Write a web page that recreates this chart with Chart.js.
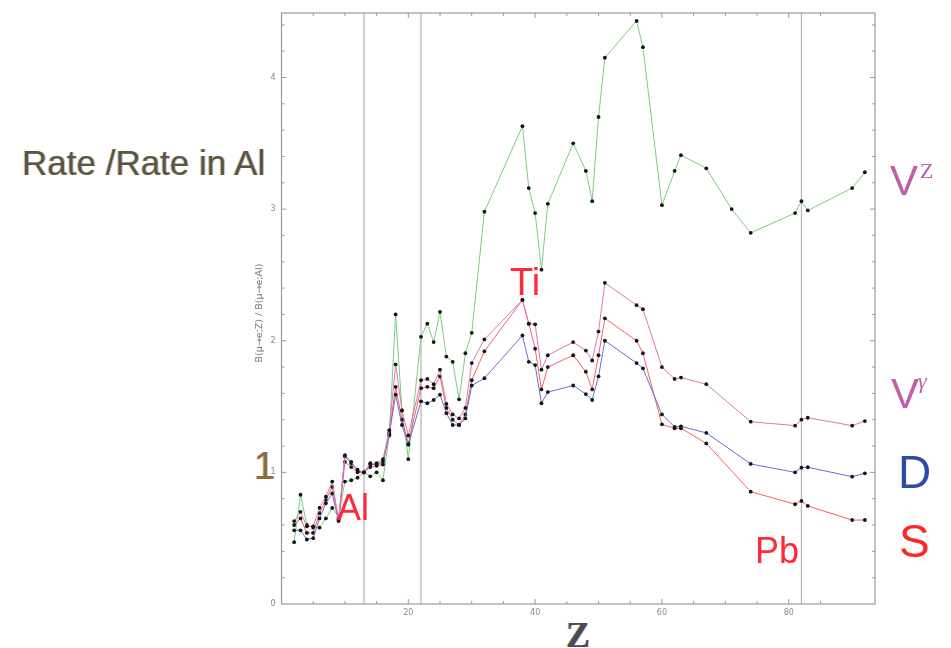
<!DOCTYPE html>
<html>
<head>
<meta charset="utf-8">
<script src="https://cdn.jsdelivr.net/npm/chart.js@4.4.1/dist/chart.umd.min.js"></script>
<style>
  html, body { margin: 0; padding: 0; background: #fff; }
  #wrap { position: relative; width: 951px; height: 648px; overflow: hidden;
          font-family: "Liberation Sans", Arial, sans-serif; }
  #wrap canvas { position: absolute; left: 0; top: 0; }
  .t { position: absolute; line-height: 1; white-space: nowrap; }
  .fringe { text-shadow: -1px 0 rgba(230,150,40,0.55), 1px 0 rgba(60,130,210,0.45); }
  .ytitle { position: absolute; left: 258px; top: 313px; font-size: 9.5px; color: #777;
            font-family: "DejaVu Sans", sans-serif; transform: translate(-50%, -50%) rotate(-90deg);
            white-space: nowrap; }
  sup { font-family: "Liberation Serif", serif; }
</style>
</head>
<body>
<div id="wrap">
  <canvas id="c" width="951" height="648"></canvas>
  <div class="ytitle">B(μ→e;Z) / B(μ→e;Al)</div>
  <div class="t fringe" style="left:22px;top:145px;font-size:35px;color:#5b5547;">Rate /Rate in Al</div>
  <div class="t fringe" style="left:254px;top:447px;font-size:38px;color:#8e6a3c;">1</div>
  <div class="t" style="left:510px;top:263px;font-size:38px;color:#ff2a38;">Ti</div>
  <div class="t" style="left:337px;top:490px;font-size:36px;color:#ff2a38;">Al</div>
  <div class="t" style="left:755px;top:533px;font-size:36px;color:#ff2a38;">Pb</div>
  <div class="t" style="left:890px;top:160px;font-size:42px;color:#c25ea8;">V</div>
  <div class="t" style="left:920px;top:160px;font-size:22px;color:#c25ea8;font-family:'Liberation Serif',serif;">Z</div>
  <div class="t" style="left:891px;top:373px;font-size:42px;color:#c25ea8;">V</div>
  <div class="t" style="left:918px;top:370px;font-size:22px;color:#c25ea8;font-family:'Liberation Serif',serif;font-style:italic;">γ</div>
  <div class="t" style="left:898px;top:449px;font-size:46px;color:#2c4ca2;">D</div>
  <div class="t" style="left:899px;top:518px;font-size:46px;color:#ff2626;">S</div>
  <div class="t fringe" style="left:566px;top:617px;font-size:36px;color:#4a4a58;font-weight:bold;font-family:'Liberation Serif',serif;">Z</div>
</div>
<script>
// Atomic numbers of the target nuclei
const zNuclei = [2, 3, 4, 5, 6, 7, 8, 9, 10, 11, 12, 13, 14, 15, 16, 17, 18, 19, 20,
                 22, 23, 24, 25, 26, 27, 28, 29, 30, 32, 38, 39, 40, 41, 42,
                 46, 48, 49, 50, 51, 56, 57, 60, 62, 63, 67, 71, 74, 81, 82, 83, 90, 92];

// Conversion rate relative to aluminium, one array per interaction type
const rateVZ = [0.47, 0.83, 0.60, 0.58, 0.58, 0.65, 0.73, 0.66, 0.93, 0.94, 0.96, 1.00, 0.97, 1.00, 0.94, 1.28, 2.20, 1.47, 1.10,
                2.03, 2.13, 1.99, 2.22, 1.88, 1.84, 1.555, 1.905, 2.06, 2.98, 3.63, 3.16, 2.97, 2.54, 3.04,
                3.50, 3.29, 3.06, 3.70, 4.15, 4.43, 4.23, 3.03, 3.29, 3.41, 3.31, 3.00, 2.82, 2.97, 3.06, 2.99, 3.16, 3.28];

const rateVGamma = [0.63, 0.70, 0.59, 0.59, 0.73, 0.815, 0.93, 0.64, 1.13, 1.08, 1.02, 1.00, 1.07, 1.07, 1.10, 1.32, 1.82, 1.47, 1.28,
                    1.70, 1.71, 1.67, 1.78, 1.52, 1.44, 1.41, 1.49, 1.83, 2.01, 2.31, 2.13, 2.125, 1.78, 1.89,
                    1.99, 1.925, 1.85, 2.07, 2.44, 2.27, 2.24, 1.80, 1.71, 1.72, 1.67, null, 1.385, 1.355, 1.40, 1.415, 1.355, 1.39];

const rateDipole = [0.56, 0.56, 0.49, 0.50, 0.65, 0.765, 0.84, 0.63, 1.12, 1.07, 1.01, 1.00, 1.06, 1.06, 1.08, 1.29, 1.59, 1.36, 1.21,
                    1.54, 1.525, 1.55, 1.59, 1.45, 1.36, 1.36, 1.41, 1.66, 1.715, 2.04, 1.84, 1.815, 1.525, 1.61,
                    1.66, 1.595, 1.55, 1.73, 2.00, 1.83, 1.79, 1.44, 1.345, 1.35, 1.30, null, 1.064, 1.00, 1.036, 1.039, 0.967, 0.993];

const rateScalar = [0.60, 0.65, 0.54, 0.54, 0.69, 0.79, 0.89, 0.64, 1.08, 1.04, 1.00, 1.00, 1.04, 1.05, 1.06, 1.30, 1.65, 1.40, 1.22,
                    1.64, 1.65, 1.64, 1.73, 1.49, 1.40, 1.36, 1.44, 1.70, 1.92, 2.31, 2.13, 1.94, 1.63, 1.80,
                    1.89, 1.765, 1.63, 1.89, 2.17, 2.00, 1.905, 1.365, 1.335, 1.335, 1.22, null, 0.853, 0.758, 0.783, 0.745, 0.638, 0.638];

// Reference nuclei marked with vertical lines (Al, Ti, Pb)
const markedZ = [13, 22, 82];

// Tick labels
const xTickLabels = [20, 40, 60, 80];
const yTickLabels = [0, 1, 2, 3, 4];

const toPoints = vals => zNuclei.map((z, i) => ({ x: z, y: vals[i] }));

function series(label, vals, color) {
  return {
    label, data: toPoints(vals),
    borderColor: color, borderWidth: 1, tension: 0, spanGaps: true,
    pointRadius: 1.9, pointBackgroundColor: '#151515', pointBorderWidth: 0, fill: false
  };
}

// Frame with inward ticks on all four sides plus the marker lines
const framePlugin = {
  id: 'frame',
  beforeDatasetsDraw(chart) {
    const { ctx, chartArea: a, scales: { x } } = chart;
    ctx.save();
    ctx.strokeStyle = '#b4b4b4';
    ctx.lineWidth = 1.2;
    markedZ.forEach(z => {
      const px = x.getPixelForValue(z);
      ctx.beginPath(); ctx.moveTo(px, a.top); ctx.lineTo(px, a.bottom); ctx.stroke();
    });
    ctx.restore();
  },
  afterDraw(chart) {
    const { ctx, chartArea: a, scales: { x, y } } = chart;
    ctx.save();
    ctx.strokeStyle = '#9a9a9a';
    ctx.lineWidth = 1.2;
    ctx.strokeRect(a.left, a.top, a.right - a.left, a.bottom - a.top);
    ctx.lineWidth = 1;
    x.ticks.forEach(t => {
      const v = t.value;
      if (Math.abs(v / 5 - Math.round(v / 5)) > 1e-6 || v <= 0) return;
      const px = x.getPixelForValue(v);
      const len = (v % 20 === 0) ? 5 : 3;
      ctx.beginPath();
      ctx.moveTo(px, a.bottom); ctx.lineTo(px, a.bottom - len);
      ctx.moveTo(px, a.top); ctx.lineTo(px, a.top + len);
      ctx.stroke();
    });
    y.ticks.forEach(t => {
      const v = t.value;
      if (Math.abs(v / 0.2 - Math.round(v / 0.2)) > 1e-6 || v <= 0) return;
      const py = y.getPixelForValue(v);
      const len = Math.abs(v - Math.round(v)) < 1e-6 ? 5 : 3;
      ctx.beginPath();
      ctx.moveTo(a.left, py); ctx.lineTo(a.left + len, py);
      ctx.moveTo(a.right, py); ctx.lineTo(a.right - len, py);
      ctx.stroke();
    });
    ctx.restore();
  }
};

new Chart(document.getElementById('c'), {
  type: 'line',
  data: {
    datasets: [
      series('Vγ', rateVGamma, 'rgb(222,118,178)'),
      series('D', rateDipole, 'rgb(108,108,208)'),
      series('S', rateScalar, 'rgb(246,96,96)'),
      series('VZ', rateVZ, 'rgb(124,204,124)')
    ]
  },
  options: {
    responsive: false,
    animation: false,
    devicePixelRatio: 1,
    layout: { padding: { left: 0, right: 76, top: 13, bottom: 24 } },
    plugins: { legend: { display: false }, tooltip: { enabled: false } },
    scales: {
      x: {
        type: 'linear', min: 0, max: 93.6,
        grid: { display: false, drawTicks: false },
        border: { display: false },
        ticks: {
          stepSize: 5, autoSkip: false, maxRotation: 0, padding: 4,
          color: '#8a8a8a', font: { size: 8, family: 'DejaVu Sans' },
          callback: v => xTickLabels.includes(v) ? String(v) : ''
        },
        afterFit: s => { s.height = 20; }
      },
      y: {
        type: 'linear', min: 0, max: 4.49,
        grid: { display: false, drawTicks: false },
        border: { display: false },
        ticks: {
          stepSize: 0.2, autoSkip: false, padding: 6,
          color: '#8a8a8a', font: { size: 8, family: 'DejaVu Sans' },
          callback: v => {
            const r = Math.round(v);
            return (Math.abs(v - r) < 1e-6 && yTickLabels.includes(r)) ? String(r) : '';
          }
        },
        afterFit: s => { s.width = 281.5; }
      }
    }
  },
  plugins: [framePlugin]
});
</script>
</body>
</html>
